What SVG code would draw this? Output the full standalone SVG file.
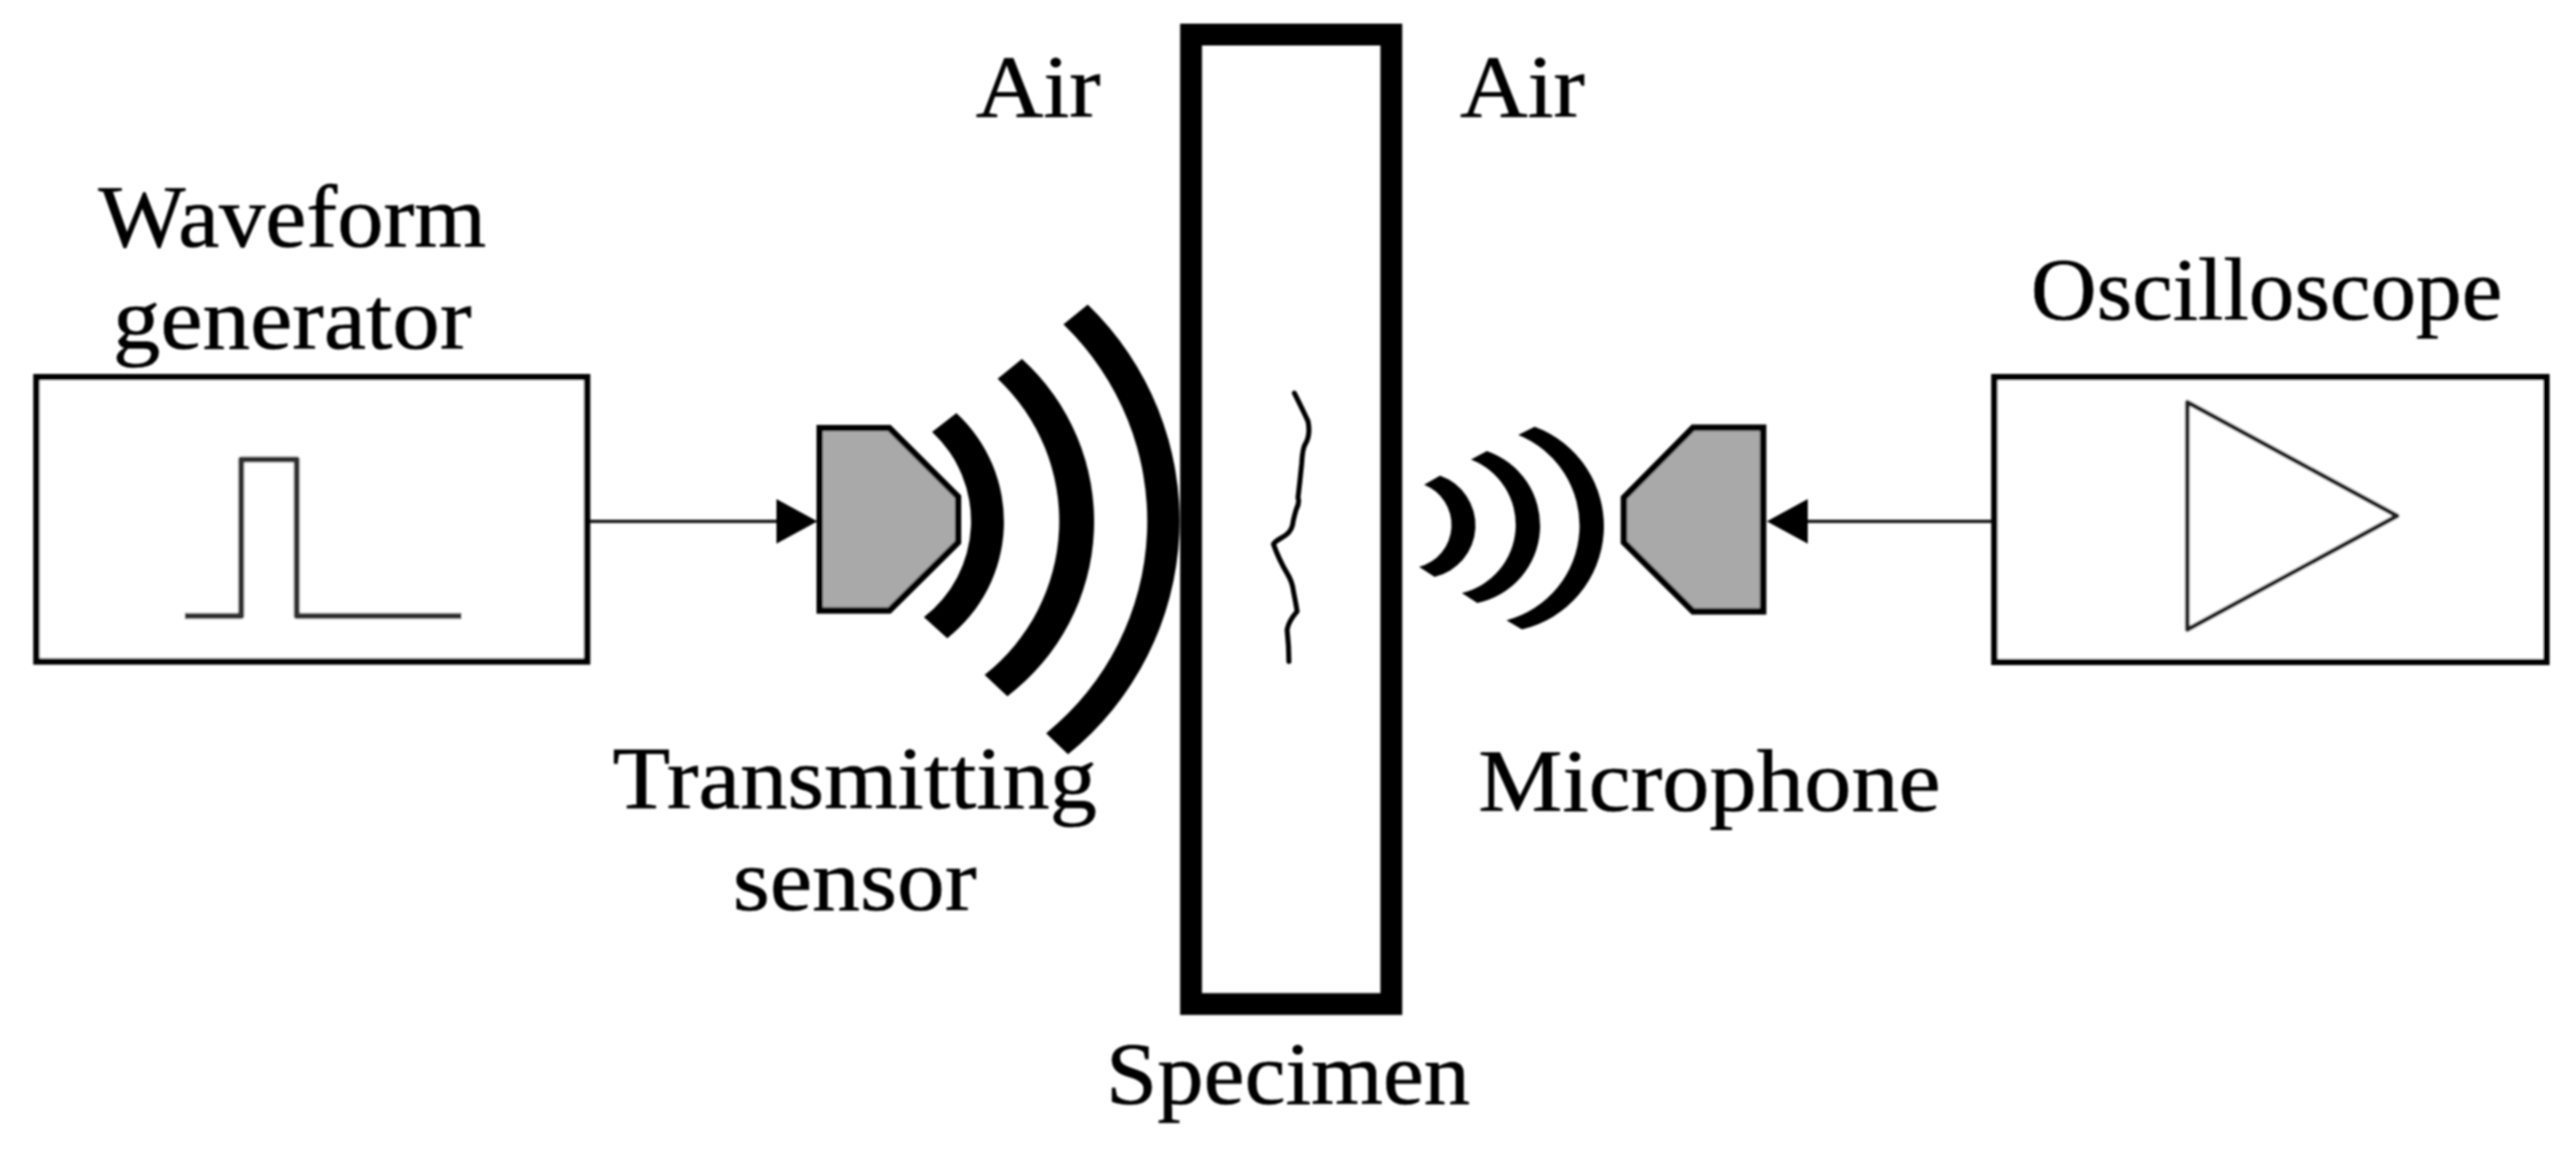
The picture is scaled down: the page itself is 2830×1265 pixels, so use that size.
<svg xmlns="http://www.w3.org/2000/svg" width="2830" height="1265" viewBox="0 0 2830 1265">
<style>
text{font-family:"Liberation Serif","Times New Roman",serif;font-size:98px;fill:#000;stroke:#000;stroke-width:.7}
.box{fill:#fff;stroke:#000;stroke-width:7}
.probe{fill:#a9a9a9;stroke:#000;stroke-width:7;stroke-linejoin:miter}
.trace{fill:none;stroke:#333;stroke-width:6.5;stroke-linejoin:round}
.wave{fill:#000;stroke:none}
.wire{fill:none;stroke:#111;stroke-width:3.5}
</style>
<defs>
<marker id="head" markerUnits="userSpaceOnUse" markerWidth="46" markerHeight="50" refX="2" refY="25" orient="auto"><path d="M0,0.5 L45,25 L0,49.5 Z" fill="#000"/></marker>
<filter id="soft" filterUnits="userSpaceOnUse" x="0" y="0" width="2830" height="1265"><feGaussianBlur stdDeviation="0.8"/></filter>
</defs>
<rect width="2830" height="1265" fill="#fff"/>
<g filter="url(#soft)">
<g id="waveform-generator">
<rect class="box" x="40" y="414.5" width="605" height="312.5"/>
<path class="trace" d="M203,677 H265 V505 H326 V677 H507"/>
<text x="108" y="271" textLength="426" lengthAdjust="spacingAndGlyphs">Waveform</text>
<text x="124" y="383" textLength="394" lengthAdjust="spacingAndGlyphs">generator</text>
</g>
<g id="transmitting-sensor">
<polygon class="probe" points="900.5,470.5 977,470.5 1052.5,546 1052.5,596 977,671 900.5,671"/>
<text x="673" y="888" textLength="532" lengthAdjust="spacingAndGlyphs">Transmitting</text>
<text x="805" y="1000" textLength="268" lengthAdjust="spacingAndGlyphs">sensor</text>
</g>
<g id="transmit-waves">
<path class="wave" d="M1024,474.8 L1050.7,454 A162.7,162.7 0 0 1 1040.7,701.4 L1015,678.3 A133.5,133.5 0 0 0 1024,474.8 Z"/>
<path class="wave" d="M1096,416.2 L1122.7,394.5 A241,241 0 0 1 1106.7,765.2 L1081.7,741.7 A215,215 0 0 0 1096,416.2 Z"/>
<path class="wave" d="M1168.3,356.6 L1195,334.8 A330,330 0 0 1 1173.3,829 L1149.3,805.9 A300,300 0 0 0 1168.3,356.6 Z"/>
</g>
<g id="specimen">
<rect x="1308.5" y="38" width="220" height="1065.5" fill="none" stroke="#000" stroke-width="24"/>
<path fill="none" stroke="#000" stroke-width="5.5" stroke-linejoin="round" stroke-linecap="round" d="M1422,432 Q1432,452 1437,463 Q1440,478 1434,488 Q1431,492 1430,510 Q1428,530 1426,547 Q1428,552 1424,560 Q1421,570 1420,577 Q1418,586 1408,591 Q1401,595 1399,598 Q1405,615 1414,630 Q1420,640 1421,650 Q1424,665 1425,672 Q1416,682 1414,692 Q1416,710 1416,727"/>
<text x="1215" y="1213" textLength="400" lengthAdjust="spacingAndGlyphs">Specimen</text>
</g>
<g id="air-left"><text x="1072" y="128" textLength="137" lengthAdjust="spacingAndGlyphs">Air</text></g>
<g id="air-right"><text x="1604" y="128" textLength="137" lengthAdjust="spacingAndGlyphs">Air</text></g>
<g id="receive-waves">
<path class="wave" d="M1564.6,532.7 L1582,522.7 A58,58 0 0 1 1576,634 L1559,623 A47.6,47.6 0 0 0 1564.6,532.7 Z"/>
<path class="wave" d="M1616,505 L1633.5,495.7 A86.8,86.8 0 0 1 1623,662.7 L1606,651.7 A77,77 0 0 0 1616,505 Z"/>
<path class="wave" d="M1668,478 L1686,469 A116.5,116.5 0 0 1 1672,691.7 L1655,681.7 A107.5,107.5 0 0 0 1668,478 Z"/>
</g>
<g id="microphone">
<polygon class="probe" points="1937,470 1860,470 1784,547 1784,596 1860,672 1937,672"/>
<text x="1624" y="891" textLength="508" lengthAdjust="spacingAndGlyphs">Microphone</text>
</g>
<g id="oscilloscope">
<rect class="box" x="2191" y="414.5" width="606.5" height="313"/>
<polygon fill="none" stroke="#222" stroke-width="5" stroke-linejoin="round" points="2403,442 2633.5,567 2403,692"/>
<text x="2231" y="351" textLength="518" lengthAdjust="spacingAndGlyphs">Oscilloscope</text>
</g>
<g id="connectors">
<line class="wire" x1="648" y1="573" x2="855" y2="573" marker-end="url(#head)"/>
<line class="wire" x1="2188" y1="573" x2="1984" y2="573" marker-end="url(#head)"/>
</g>
</g>
</svg>
